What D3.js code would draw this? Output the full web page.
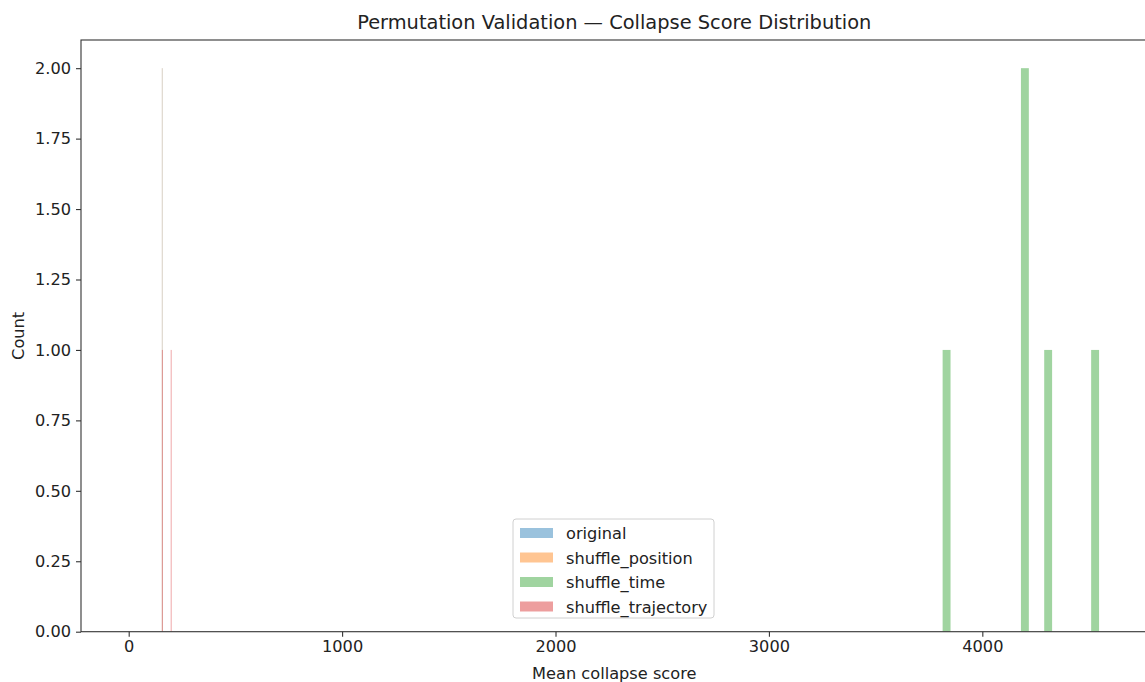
<!DOCTYPE html>
<html>
<head>
<meta charset="utf-8">
<script src="https://cdn.jsdelivr.net/npm/d3@7"></script>
<style>
  html, body { margin: 0; padding: 0; background: #fff; }
  svg { display: block; font-family: "DejaVu Sans", sans-serif; }
</style>
</head>
<body>
<svg id="chart" width="1145" height="682"></svg>
<script>
// ---- data ----
const seriesNames = ["original", "shuffle_position", "shuffle_time", "shuffle_trajectory"];
const seriesColors = ["#1f77b4", "#ff7f0e", "#2ca02c", "#d62728"];

// histogram bins: left edges, right edges and counts per series
const originalBinStart = [155.2];
const originalBinEnd = [156.2];
const originalCounts = [2];

const positionBinStart = [155.0];
const positionBinEnd = [156.0];
const positionCounts = [2];

const timeBinStart = [3814, 4181, 4290, 4510];
const timeBinEnd = [3851, 4218, 4327, 4547];
const timeCounts = [1, 2, 1, 1];

const trajectoryBinStart = [155.5, 196.9];
const trajectoryBinEnd = [157.6, 199.0];
const trajectoryCounts = [1, 1];

const xTicks = [0, 1000, 2000, 3000, 4000];
const yTicks = [0, 0.25, 0.5, 0.75, 1.0, 1.25, 1.5, 1.75, 2.0];
const xDomain = [-223.5, 4774];
const yDomain = [0, 2.1];

const titleText = "Permutation Validation \u2014 Collapse Score Distribution";
const xLabelText = "Mean collapse score";
const yLabelText = "Count";

// ---- layout ----
const margin = { left: 81, top: 40, right: 1147.5, bottom: 631.7 };
const svg = d3.select("#chart");
const fs = "16.2px";

const x = d3.scaleLinear().domain(xDomain).range([margin.left, margin.right]);
const y = d3.scaleLinear().domain(yDomain).range([margin.bottom, margin.top]);

function bins(starts, ends, counts) {
  return starts.map((s, i) => ({ x0: s, x1: ends[i], count: counts[i] }));
}
const seriesBins = [
  bins(originalBinStart, originalBinEnd, originalCounts),
  bins(positionBinStart, positionBinEnd, positionCounts),
  bins(timeBinStart, timeBinEnd, timeCounts),
  bins(trajectoryBinStart, trajectoryBinEnd, trajectoryCounts)
];

svg.append("defs").append("clipPath").attr("id", "plotclip")
  .append("rect").attr("x", margin.left).attr("y", margin.top)
  .attr("width", margin.right - margin.left).attr("height", margin.bottom - margin.top);

const plot = svg.append("g").attr("clip-path", "url(#plotclip)");

seriesBins.forEach((bs, si) => {
  plot.append("g")
    .selectAll("rect")
    .data(bs)
    .join("rect")
    .attr("x", d => x(d.x0))
    .attr("width", d => Math.max(0.9, x(d.x1) - x(d.x0)))
    .attr("y", d => y(d.count))
    .attr("height", d => y(0) - y(d.count))
    .attr("fill", seriesColors[si])
    .attr("fill-opacity", d => 0.45 * Math.min(1, (x(d.x1) - x(d.x0)) / 0.45));
});

// ---- axes ----
const xAxis = d3.axisBottom(x).tickValues(xTicks).tickSize(5).tickPadding(4).tickFormat(d3.format("d"));
const yAxis = d3.axisLeft(y).tickValues(yTicks).tickSize(5).tickPadding(5).tickFormat(d3.format(".2f"));

const gx = svg.append("g").attr("transform", `translate(0,${margin.bottom})`).call(xAxis);
const gy = svg.append("g").attr("transform", `translate(${margin.left},0)`).call(yAxis);
[gx, gy].forEach(g => {
  g.select(".domain").remove();
  g.selectAll(".tick line").attr("stroke", "#333").attr("stroke-width", 1.1);
  g.selectAll(".tick text").attr("fill", "#222").style("font-size", fs).style("font-family", "DejaVu Sans, sans-serif");
});

// spines
svg.append("rect")
  .attr("x", margin.left).attr("y", margin.top)
  .attr("width", margin.right - margin.left).attr("height", margin.bottom - margin.top)
  .attr("fill", "none").attr("stroke", "#333").attr("stroke-width", 1.1);

// ---- labels ----
const cx = (margin.left + margin.right) / 2;
svg.append("text").attr("x", cx).attr("y", 29).attr("text-anchor", "middle")
  .style("font-size", "19.4px").attr("fill", "#222").text(titleText);
svg.append("text").attr("x", cx).attr("y", 679).attr("text-anchor", "middle")
  .style("font-size", fs).attr("fill", "#222").text(xLabelText);
svg.append("text").attr("transform", `translate(24,${(margin.top + margin.bottom) / 2}) rotate(-90)`)
  .attr("text-anchor", "middle").style("font-size", fs).attr("fill", "#222").text(yLabelText);

// ---- legend ----
const lg = svg.append("g").attr("transform", "translate(513,519)");
lg.append("rect").attr("x", 0).attr("y", 0).attr("width", 201).attr("height", 99)
  .attr("rx", 3).attr("fill", "#fff").attr("fill-opacity", 0.8)
  .attr("stroke", "#d0d0d0").attr("stroke-width", 1);
seriesNames.forEach((name, i) => {
  const row = lg.append("g").attr("transform", `translate(0,${14 + i * 24.5})`);
  row.append("rect").attr("x", 7).attr("y", -5).attr("width", 33).attr("height", 10)
    .attr("fill", seriesColors[i]).attr("fill-opacity", 0.45);
  row.append("text").attr("x", 53).attr("y", 6).style("font-size", fs)
    .attr("fill", "#222").text(name);
});
</script>
</body>
</html>
